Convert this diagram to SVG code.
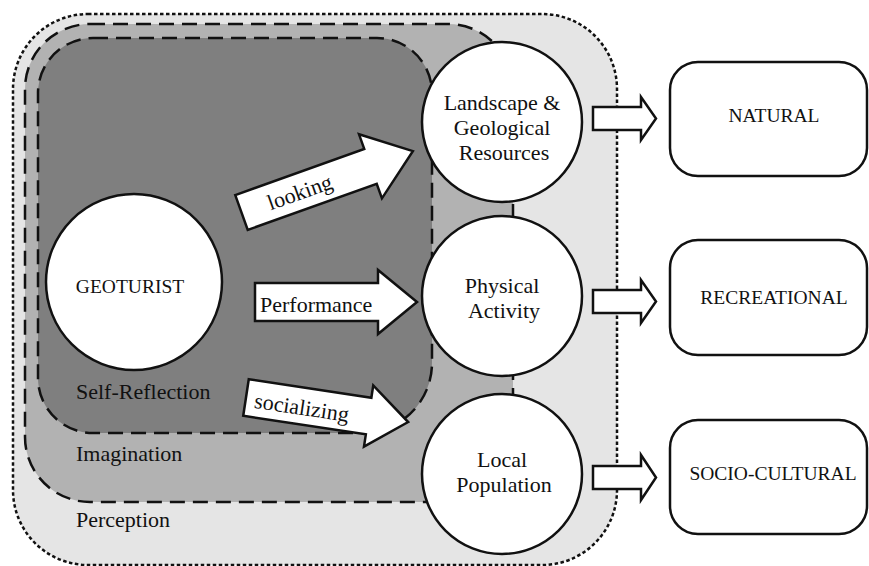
<svg xmlns="http://www.w3.org/2000/svg" width="869" height="566" viewBox="0 0 869 566">
<style>
  .txt { font-family: "Liberation Serif", "Times New Roman", serif; fill: #111; }
  .lc { font-size: 22px; }
  .cap { font-size: 19.5px; }
  .mid { text-anchor: middle; }
  .node { fill: #fff; stroke: #111; stroke-width: 2.5; }
  .arrow { fill: #fff; stroke: #111; stroke-width: 2.5; stroke-linejoin: miter; }
  .dotted { stroke: #111; stroke-width: 2.5; stroke-dasharray: 3.5 2.5; }
  .dashed { stroke: #111; stroke-width: 2.5; stroke-dasharray: 15 8; }
</style>

<g id="regions">
  <g id="perception">
    <rect x="13" y="14" width="604" height="551" rx="75" ry="75" fill="#e5e5e5" class="dotted"/>
    <text class="txt lc" x="76" y="527">Perception</text>
  </g>
  <g id="imagination">
    <rect x="25" y="24" width="488" height="478" rx="65" ry="65" fill="#b2b2b2" class="dashed"/>
    <text class="txt lc" x="76" y="461">Imagination</text>
  </g>
  <g id="self-reflection">
    <path d="M93,38 H377 A55,55 0 0 1 432,93 V363 A70,70 0 0 1 362,433 H93 A55,55 0 0 1 38,378 V93 A55,55 0 0 1 93,38 Z" fill="#7f7f7f" class="dashed"/>
    <text class="txt lc" x="76" y="399">Self-Reflection</text>
  </g>
</g>

<g id="geoturist">
  <circle class="node" cx="134" cy="282" r="88"/>
  <text class="txt cap mid" x="130" y="293">GEOTURIST</text>
</g>

<g id="landscape">
  <circle class="node" cx="502" cy="122" r="80"/>
  <text class="txt lc mid" x="502" y="110">Landscape &amp;</text>
  <text class="txt lc mid" x="502" y="135">Geological</text>
  <text class="txt lc mid" x="504" y="160">Resources</text>
</g>

<g id="physical">
  <circle class="node" cx="502" cy="296" r="80"/>
  <text class="txt lc mid" x="502" y="293">Physical</text>
  <text class="txt lc mid" x="504" y="318">Activity</text>
</g>

<g id="local">
  <circle class="node" cx="502" cy="474" r="80"/>
  <text class="txt lc mid" x="502" y="467">Local</text>
  <text class="txt lc mid" x="504" y="492">Population</text>
</g>

<g id="natural">
  <rect class="node" x="670" y="62" width="197" height="114" rx="28" ry="28"/>
  <text class="txt cap mid" x="774" y="122">NATURAL</text>
</g>

<g id="recreational">
  <rect class="node" x="670" y="240" width="197" height="115" rx="28" ry="28"/>
  <text class="txt cap mid" x="774" y="304">RECREATIONAL</text>
</g>

<g id="socio-cultural">
  <rect class="node" x="670" y="420" width="197" height="114" rx="28" ry="28"/>
  <text class="txt cap mid" x="773" y="480">SOCIO-CULTURAL</text>
</g>

<g id="connectors">
  <g id="looking" transform="translate(241.5,212.5) rotate(-19.7)">
    <polygon class="arrow" points="0,-18.5 137,-18.5 137,-34 182,0 137,34 137,18.5 0,18.5"/>
    <text class="txt lc" x="28" y="8">looking</text>
  </g>
  <g id="performance">
    <polygon class="arrow" points="255,283 378,283 378,270 417,302 378,334 378,321 255,321"/>
    <text class="txt lc" x="260" y="312">Performance</text>
  </g>
  <g id="socializing" transform="translate(246,397.5) rotate(8.6)">
    <polygon class="arrow" points="0,-18.5 124,-18.5 124,-31 164,0 124,31 124,18.5 0,18.5"/>
    <text class="txt lc" x="9" y="9">socializing</text>
  </g>
  <polygon class="arrow" points="593,107 641,107 641,97 656,118.5 641,140 641,130 593,130"/>
  <polygon class="arrow" points="593,290 641,290 641,280 656,301.5 641,323 641,313 593,313"/>
  <polygon class="arrow" points="593,466 641,466 641,455 656,477.5 641,500 641,489 593,489"/>
</g>
</svg>
